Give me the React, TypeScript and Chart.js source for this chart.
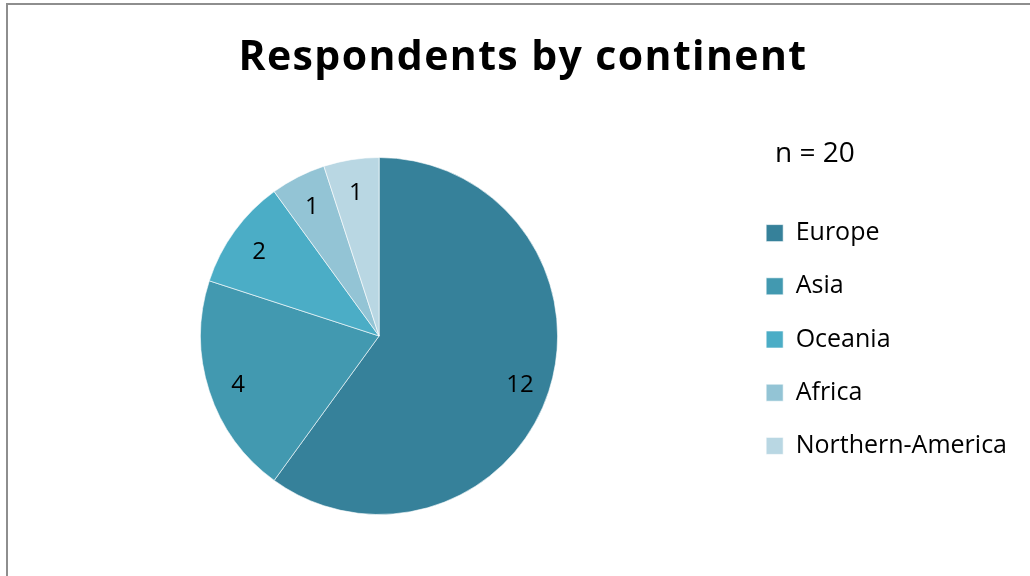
import React, { useEffect, useRef } from "react";
import { Chart, registerables } from "chart.js";

Chart.register(...registerables);

const categories = ["Europe", "Asia", "Oceania", "Africa", "Northern-America"];
const respondents = [12, 4, 2, 1, 1];
const sliceColors = ["#36819A", "#4299B0", "#4BADC6", "#93C4D5", "#B9D7E3"];
const chartTitle = "Respondents by continent";
const sampleNote = "n = 20";

const FONT = "'Open Sans', 'DejaVu Sans', sans-serif";

const labelPlugin = {
  id: "sliceLabels",
  afterDatasetsDraw(chart: any) {
    const ctx = chart.ctx;
    const meta = chart.getDatasetMeta(0);
    ctx.save();
    ctx.font = `24px ${FONT}`;
    ctx.fillStyle = "#000";
    ctx.textAlign = "center";
    ctx.textBaseline = "middle";
    meta.data.forEach((arc: any, i: number) => {
      const p = arc.getProps(["x", "y", "startAngle", "endAngle", "outerRadius"], true);
      const mid = (p.startAngle + p.endAngle) / 2;
      const r = p.outerRadius * 0.83;
      ctx.fillText(String(chart.data.datasets[0].data[i]), p.x + Math.cos(mid) * r, p.y + Math.sin(mid) * r + 3);
    });
    ctx.restore();
  },
};

const textPlugin = {
  id: "titleAndNote",
  afterDraw(chart: any) {
    const ctx = chart.ctx;
    const legend = chart.legend;
    ctx.save();
    ctx.fillStyle = "#000";
    // title
    ctx.font = `bold 41px ${FONT}`;
    (ctx as any).letterSpacing = "1.4px";
    ctx.textAlign = "center";
    ctx.textBaseline = "alphabetic";
    ctx.fillText(chartTitle, 523, 70);
    // note
    (ctx as any).letterSpacing = "0px";
    ctx.font = `28px ${FONT}`;
    ctx.textAlign = "left";
    ctx.textBaseline = "middle";
    ctx.fillText(sampleNote, legend.left + 37, 154);
    ctx.restore();
  },
};

export default function App() {
  const ref = useRef<HTMLCanvasElement | null>(null);
  useEffect(() => {
    if (!ref.current) return;
    const chart = new Chart(ref.current, {
      type: "pie",
      data: {
        labels: categories,
        datasets: [
          {
            data: respondents,
            backgroundColor: sliceColors,
            borderColor: "rgba(255,255,255,0.6)",
            borderWidth: 1,
          },
        ],
      },
      options: {
        responsive: false,
        animation: false,
        layout: { padding: { left: 20.2, right: 13, top: 157, bottom: 61 } },
        plugins: {
          title: { display: false },
          legend: {
            position: "right",
            align: "center",
            fullSize: false,
            title: { display: true, text: "", font: { size: 7, lineHeight: 1 }, padding: 0 },
            labels: {
              boxWidth: 17,
              boxHeight: 17,
              padding: 28.2,
              color: "#000",
              font: { family: FONT, size: 25 },
            },
          },
          tooltip: { enabled: false },
        },
      },
      plugins: [labelPlugin, textPlugin],
    });
    return () => chart.destroy();
  }, []);
  return (
    <div style={{ position: "fixed", left: 0, top: 0, width: 1030, height: 576, background: "#fff", overflow: "hidden" }}>
      <div
        style={{
          position: "absolute",
          left: 6,
          top: 3,
          width: 1100,
          height: 700,
          border: "2px solid #8e8e8e",
          boxSizing: "border-box",
        }}
      />
      <canvas ref={ref} width={1030} height={576} style={{ position: "absolute", left: 0, top: 0 }} />
    </div>
  );
}
